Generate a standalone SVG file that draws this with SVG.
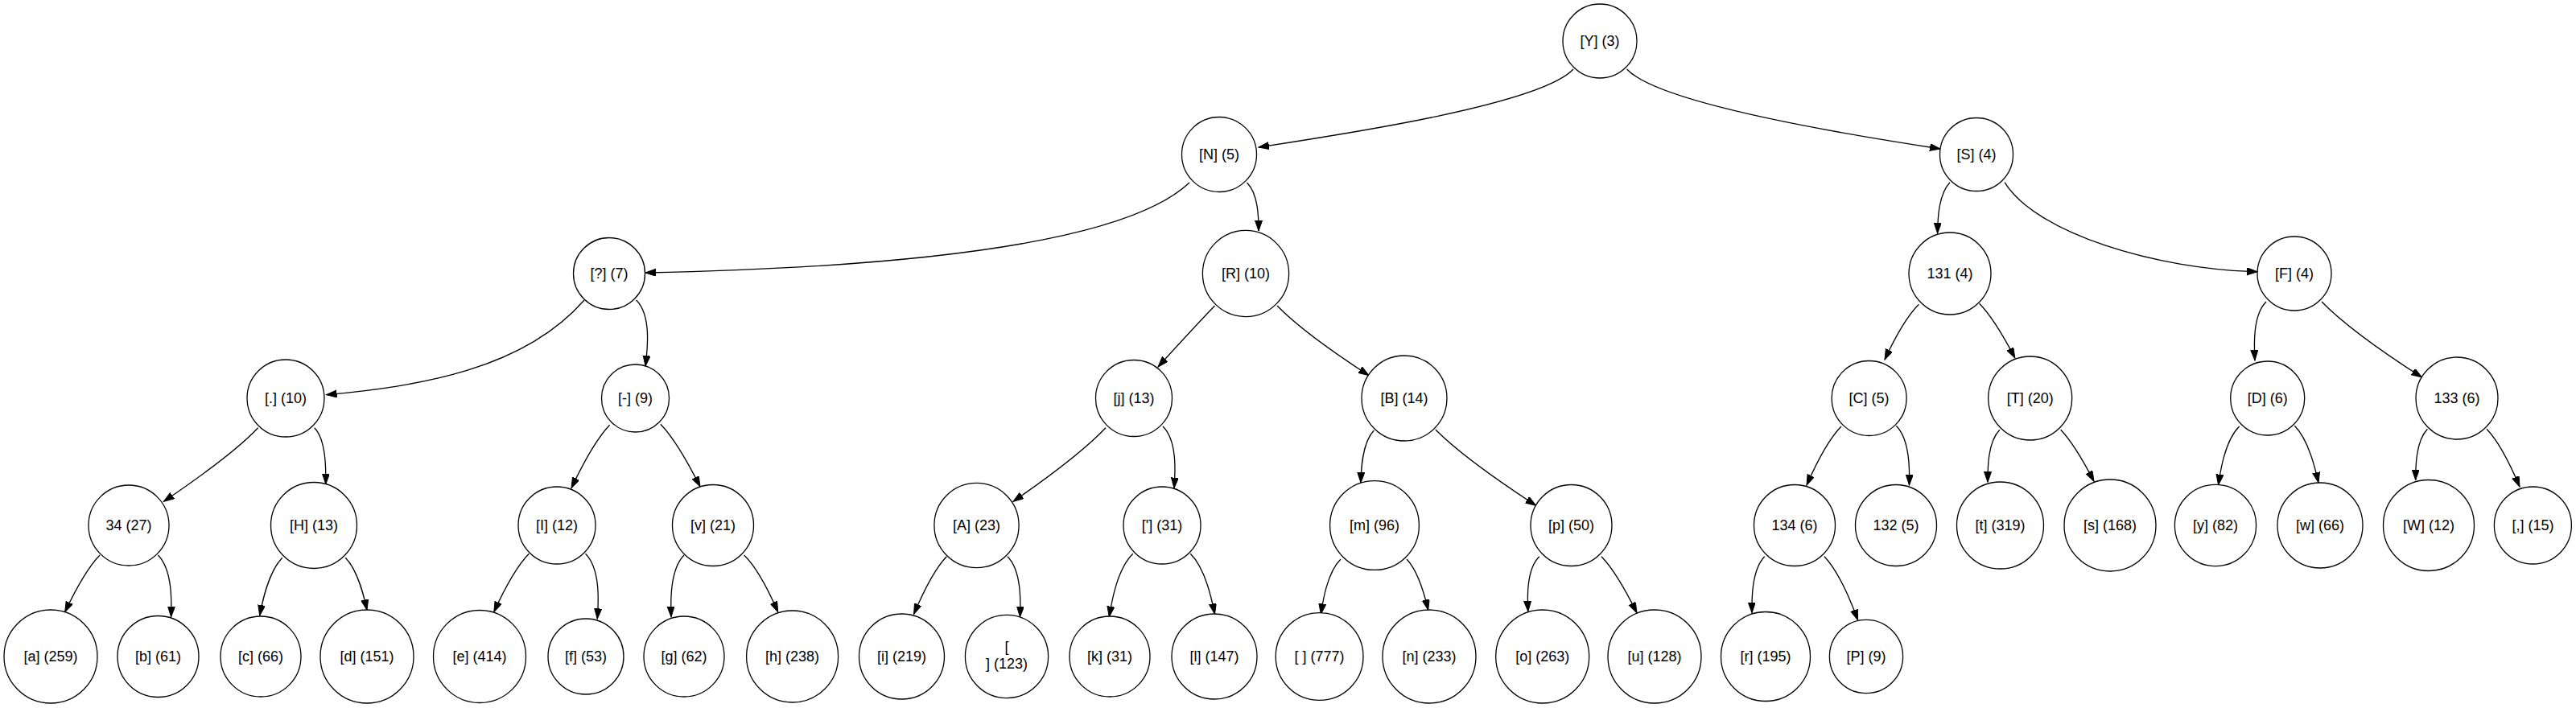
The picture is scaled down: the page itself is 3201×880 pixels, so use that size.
<svg xmlns="http://www.w3.org/2000/svg" width="3201" height="880" viewBox="0 0 3201 880">
<defs>
<marker id="arr" markerUnits="userSpaceOnUse" markerWidth="14" markerHeight="10" refX="13" refY="4.5" orient="auto">
<path d="M0,0 L13,4.5 L0,9 z" fill="#000" stroke="#000" stroke-width="1"/>
</marker>
<style>
.n circle{fill:#fff;stroke:#000;stroke-width:1.3}
.n text{font-family:"Liberation Sans",Arial,sans-serif;font-size:18px;text-anchor:middle;fill:#000}
#edges path{fill:none;stroke:#000;stroke-width:1.3;marker-end:url(#arr)}
</style>
</defs>
<rect width="3201" height="880" fill="#fff"/>
<g id="edges">
<path d="M1955,86 C1914,130 1669,167 1564,183"/>
<path d="M2021.6,86 C2062,130 2306,169 2411,185"/>
<path d="M1478,227 C1380,320 1000,335 802,339"/>
<path d="M1549.5,227 C1563.8,241.5 1564,270.7 1564,287"/>
<path d="M726,373 C650,460 520,480 405.5,490.7"/>
<path d="M790.6,373 C810,392 804.4,436.1 802,455"/>
<path d="M1509.5,380 C1485.8,404.7 1453,440.6 1439,456"/>
<path d="M1587,380 C1620,413.9 1676.7,450.9 1701,466.7"/>
<path d="M2423,226.7 C2408.2,242.3 2407.8,275.7 2407.6,290"/>
<path d="M2491,226.7 C2530,290 2680,335 2805,337.7"/>
<path d="M2384.4,378.3 C2365.5,397 2349,432 2342,447"/>
<path d="M2459.6,377.3 C2478.3,396.3 2496.2,430.4 2503.8,445"/>
<path d="M2816,375 C2798.7,392.3 2801.1,431.3 2802,448"/>
<path d="M2885,375 C2920.9,411.9 2982.9,451.9 3009.5,469"/>
<path d="M320.6,531.7 C290.1,564.3 229.5,605.6 203.4,623.3"/>
<path d="M390.7,531.7 C405.6,547 405,585 404.8,601.7"/>
<path d="M757.6,528.3 C736.6,550.2 718.2,589.5 710,606.7"/>
<path d="M820.8,527.3 C842,549.1 861.6,588.3 870,605"/>
<path d="M1374,531.7 C1340.5,566.8 1283.5,606.4 1259,623.3"/>
<path d="M1445,530 C1463.4,547.9 1460.3,589.1 1459,606.7"/>
<path d="M1707.3,535 C1692.1,551.1 1691.3,585.3 1691,600"/>
<path d="M1783.8,534 C1820.2,570.6 1882.1,611 1908.6,628.3"/>
<path d="M2288,530 C2268.3,549.9 2252,587.1 2245,603"/>
<path d="M2356.3,529.3 C2373.8,547.1 2372.9,586.3 2372.5,603"/>
<path d="M2484.8,534.3 C2469.5,550.1 2470,584.7 2470,599.3"/>
<path d="M2560.7,534.3 C2578.1,552.3 2594.8,584.5 2602,598.3"/>
<path d="M2782.6,530 C2764.5,548 2759,586.3 2756.6,602.7"/>
<path d="M2851.4,529.3 C2869.1,547.3 2877.4,584.2 2881,600"/>
<path d="M3016.4,533.3 C3001.6,548.8 3001.7,582.1 3001.7,596.7"/>
<path d="M3090,533.3 C3108.9,552.9 3124.4,589.4 3131,605"/>
<path d="M124,690 C104.9,709.6 88,745.4 80.7,760.7"/>
<path d="M196.4,690 C214.6,708.5 213.2,749.1 212.6,766.7"/>
<path d="M350.8,693.3 C333.1,711.5 325.8,749 322.7,765"/>
<path d="M429.3,693.3 C445.5,709.9 452.8,743.8 456,758.3"/>
<path d="M657.3,688.3 C637.7,708.2 621,744.9 613.8,760.7"/>
<path d="M727.5,688.3 C746.8,707.5 743.6,750.8 742.2,769.3"/>
<path d="M850,690 C832,708.5 833.4,749.2 834,766.7"/>
<path d="M924.6,690 C944.2,708.8 959.9,745.1 966.7,760.7"/>
<path d="M1176.3,691.7 C1157.5,711.3 1142.2,747.7 1135.6,763.3"/>
<path d="M1252,691.7 C1269.8,709.6 1268.2,749.6 1267.5,766.7"/>
<path d="M1407.8,688.3 C1388,707.6 1381.2,749 1378.3,766.7"/>
<path d="M1479.3,688.3 C1498.2,707.2 1506.1,746.5 1509.5,763.3"/>
<path d="M1666,695 C1649,712 1643.7,747.9 1641.4,763.3"/>
<path d="M1748,695 C1763.7,711.4 1771.4,744.2 1774.7,758.3"/>
<path d="M1912.8,691.7 C1896.3,707.8 1898,744.3 1898.8,760"/>
<path d="M1990,691.7 C2009,711.3 2026.5,746.6 2034,761.7"/>
<path d="M2192.7,691.7 C2176.3,708.7 2176.8,746.4 2177,761.7"/>
<path d="M2267,691.7 C2287.4,713 2302.2,753.4 2308.6,770.7"/>
</g>
<g id="nY" class="n"><circle cx="1988" cy="51" r="46"/><text x="1988" y="57">[Y] (3)</text></g>
<g id="nN" class="n"><circle cx="1515" cy="192" r="46.5"/><text x="1515" y="198">[N] (5)</text></g>
<g id="nS" class="n"><circle cx="2456" cy="192" r="45.5"/><text x="2456" y="198">[S] (4)</text></g>
<g id="nQ" class="n"><circle cx="757" cy="340" r="44.5"/><text x="757" y="346">[?] (7)</text></g>
<g id="nR" class="n"><circle cx="1548" cy="340" r="53.6"/><text x="1548" y="346">[R] (10)</text></g>
<g id="n131" class="n"><circle cx="2423" cy="340" r="51"/><text x="2423" y="346">131 (4)</text></g>
<g id="nF" class="n"><circle cx="2851" cy="340" r="46"/><text x="2851" y="346">[F] (4)</text></g>
<g id="nDot" class="n"><circle cx="355" cy="495" r="48"/><text x="355" y="501">[.] (10)</text></g>
<g id="nDash" class="n"><circle cx="789.5" cy="495" r="42"/><text x="789.5" y="501">[-] (9)</text></g>
<g id="nj" class="n"><circle cx="1409" cy="495" r="47.5"/><text x="1409" y="501">[j] (13)</text></g>
<g id="nB" class="n"><circle cx="1745" cy="495" r="53"/><text x="1745" y="501">[B] (14)</text></g>
<g id="nC" class="n"><circle cx="2322.6" cy="495" r="46.5"/><text x="2322.6" y="501">[C] (5)</text></g>
<g id="nT" class="n"><circle cx="2522.7" cy="495" r="52"/><text x="2522.7" y="501">[T] (20)</text></g>
<g id="nD" class="n"><circle cx="2817.7" cy="495" r="46"/><text x="2817.7" y="501">[D] (6)</text></g>
<g id="n133" class="n"><circle cx="3053" cy="495" r="51"/><text x="3053" y="501">133 (6)</text></g>
<g id="n34" class="n"><circle cx="160" cy="653" r="50"/><text x="160" y="659">34 (27)</text></g>
<g id="nH" class="n"><circle cx="390" cy="653" r="53.5"/><text x="390" y="659">[H] (13)</text></g>
<g id="nI" class="n"><circle cx="692" cy="653" r="48"/><text x="692" y="659">[I] (12)</text></g>
<g id="nv" class="n"><circle cx="886" cy="653" r="50.5"/><text x="886" y="659">[v] (21)</text></g>
<g id="nA" class="n"><circle cx="1213.5" cy="653" r="52.6"/><text x="1213.5" y="659">[A] (23)</text></g>
<g id="nApos" class="n"><circle cx="1444" cy="653" r="48"/><text x="1444" y="659">['] (31)</text></g>
<g id="nm" class="n"><circle cx="1708" cy="653" r="55.4"/><text x="1708" y="659">[m] (96)</text></g>
<g id="np" class="n"><circle cx="1952.5" cy="653" r="50.5"/><text x="1952.5" y="659">[p] (50)</text></g>
<g id="n134" class="n"><circle cx="2230" cy="653" r="50.5"/><text x="2230" y="659">134 (6)</text></g>
<g id="n132" class="n"><circle cx="2356" cy="653" r="50.5"/><text x="2356" y="659">132 (5)</text></g>
<g id="nt" class="n"><circle cx="2485.5" cy="653" r="54"/><text x="2485.5" y="659">[t] (319)</text></g>
<g id="ns" class="n"><circle cx="2622" cy="653" r="57"/><text x="2622" y="659">[s] (168)</text></g>
<g id="ny" class="n"><circle cx="2753" cy="653" r="50.6"/><text x="2753" y="659">[y] (82)</text></g>
<g id="nw" class="n"><circle cx="2883" cy="653" r="53"/><text x="2883" y="659">[w] (66)</text></g>
<g id="nW" class="n"><circle cx="3018" cy="653" r="56.5"/><text x="3018" y="659">[W] (12)</text></g>
<g id="nComma" class="n"><circle cx="3147.4" cy="653" r="48"/><text x="3147.4" y="659">[,] (15)</text></g>
<g id="na" class="n"><circle cx="63" cy="816" r="58"/><text x="63" y="822">[a] (259)</text></g>
<g id="nb" class="n"><circle cx="196.5" cy="816" r="50.5"/><text x="196.5" y="822">[b] (61)</text></g>
<g id="nc" class="n"><circle cx="324" cy="816" r="50"/><text x="324" y="822">[c] (66)</text></g>
<g id="nd" class="n"><circle cx="456" cy="816" r="58"/><text x="456" y="822">[d] (151)</text></g>
<g id="ne" class="n"><circle cx="596" cy="816" r="57.5"/><text x="596" y="822">[e] (414)</text></g>
<g id="nf" class="n"><circle cx="728" cy="816" r="47"/><text x="728" y="822">[f] (53)</text></g>
<g id="ng" class="n"><circle cx="850" cy="816" r="50"/><text x="850" y="822">[g] (62)</text></g>
<g id="nh" class="n"><circle cx="984.6" cy="816" r="57"/><text x="984.6" y="822">[h] (238)</text></g>
<g id="ni" class="n"><circle cx="1120.5" cy="816" r="53"/><text x="1120.5" y="822">[i] (219)</text></g>
<g id="nNL" class="n"><circle cx="1251" cy="816" r="51.6"/><text x="1251" y="810">[</text><text x="1251" y="831">] (123)</text></g>
<g id="nk" class="n"><circle cx="1379" cy="816" r="50"/><text x="1379" y="822">[k] (31)</text></g>
<g id="nl" class="n"><circle cx="1509" cy="816" r="53"/><text x="1509" y="822">[l] (147)</text></g>
<g id="nSpace" class="n"><circle cx="1639.6" cy="816" r="54.4"/><text x="1639.6" y="822">[ ] (777)</text></g>
<g id="nn" class="n"><circle cx="1776" cy="816" r="58"/><text x="1776" y="822">[n] (233)</text></g>
<g id="no" class="n"><circle cx="1916.7" cy="816" r="58"/><text x="1916.7" y="822">[o] (263)</text></g>
<g id="nu" class="n"><circle cx="2056" cy="816" r="58"/><text x="2056" y="822">[u] (128)</text></g>
<g id="nr" class="n"><circle cx="2194" cy="816" r="55.5"/><text x="2194" y="822">[r] (195)</text></g>
<g id="nP" class="n"><circle cx="2319" cy="816" r="45.6"/><text x="2319" y="822">[P] (9)</text></g>
</svg>
